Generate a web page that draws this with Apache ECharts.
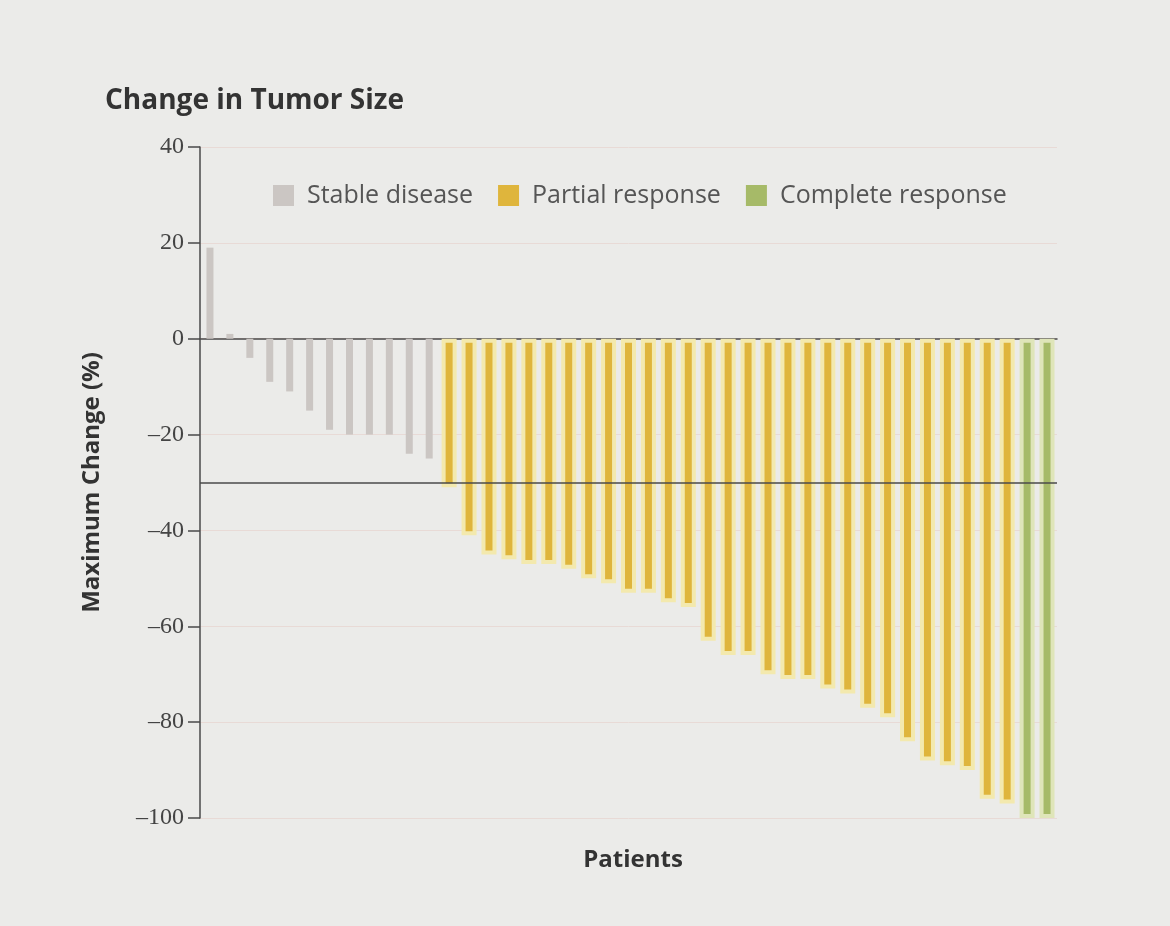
<!DOCTYPE html>
<html>
<head>
<meta charset="utf-8">
<script src="https://cdn.jsdelivr.net/npm/echarts@6/dist/echarts.min.js"></script>
<style>
  html, body { margin: 0; padding: 0; background: #ebebe9; }
  #main { width: 1170px; height: 926px; }
</style>
</head>
<body>
<div id="main"></div>
<script>
var chartDom = document.getElementById('main');
var myChart = echarts.init(chartDom);
var option;

// values, sorted as in the waterfall
var stableValues = [19, 1, -4, -9, -11, -15, -19, -20, -20, -20, -24, -25];
var partialValues = [-31, -41, -45, -46, -47, -47, -48, -50, -51, -53, -53, -55, -56,
    -63, -66, -66, -70, -71, -71, -73, -74, -77, -79, -84, -88, -89, -90, -96, -97];
var completeValues = [-100, -100];
var seriesNames = ['Stable disease', 'Partial response', 'Complete response'];
var yTicks = [40, 20, 0, -20, -40, -60, -80, -100];
var responseCutoff = -30;

var total = stableValues.length + partialValues.length + completeValues.length;
var patients = [];
for (var i = 0; i < total; i++) patients.push('P' + (i + 1));

function padded(values, offset) {
    var out = [];
    for (var i = 0; i < total; i++) {
        var j = i - offset;
        out.push(j >= 0 && j < values.length ? values[j] : '-');
    }
    return out;
}

var fontFam = '"Open Sans", "DejaVu Sans", sans-serif';
var bg = '#ebebe9';

option = {
    backgroundColor: bg,
    animation: false,
    title: [{
        text: 'Change in Tumor Size',
        left: 100,
        top: 82,
        textStyle: {
            fontFamily: fontFam,
            fontSize: 28,
            fontWeight: 'bold',
            color: '#333'
        }
    }, {
        text: 'Patients',
        left: 628,
        top: 843,
        textAlign: 'center',
        textStyle: {
            fontFamily: fontFam,
            fontSize: 24,
            fontWeight: 'bold',
            color: '#333'
        }
    }],
    legend: {
        data: seriesNames,
        left: 268,
        top: 178,
        icon: 'rect',
        itemWidth: 21,
        itemHeight: 21,
        itemGap: 25,
        itemStyle: { borderWidth: 0 },
        textStyle: {
            fontFamily: fontFam,
            fontSize: 25,
            color: '#555',
            padding: [0, 0, 0, 8]
        }
    },
    grid: {
        left: 200,
        right: 113,
        top: 147,
        bottom: 108
    },
    xAxis: [{
        type: 'category',
        data: patients,
        axisLine: {
            onZero: true,
            lineStyle: { color: '#4a4a4a', width: 1.5 }
        },
        axisTick: { show: false },
        axisLabel: { show: false },
        splitLine: { show: false }
    }, {
        // second, hidden axis so the narrow grey bars get their own centred layout
        type: 'category',
        data: patients,
        show: false
    }],
    yAxis: {
        type: 'value',
        min: yTicks[yTicks.length - 1],
        max: yTicks[0],
        interval: 20,
        name: 'Maximum Change (%)',
        nameLocation: 'middle',
        nameGap: 96,
        nameTextStyle: {
            fontFamily: fontFam,
            fontSize: 24,
            fontWeight: 'bold',
            color: '#333'
        },
        axisLine: {
            show: true,
            lineStyle: { color: '#4a4a4a', width: 1.5 }
        },
        axisTick: {
            show: true,
            length: 12,
            lineStyle: { color: '#4a4a4a', width: 1.5 }
        },
        axisLabel: {
            fontFamily: '"Liberation Serif", "DejaVu Serif", serif',
            fontSize: 24,
            color: '#444',
            margin: 16,
            formatter: function (v) { return String(v).replace('-', '\u2013'); }
        },
        splitLine: {
            show: true,
            lineStyle: { color: '#e8dad6', width: 1 }
        }
    },
    series: [{
        name: seriesNames[0],
        type: 'bar',
        xAxisIndex: 1,
        data: padded(stableValues, 0),
        barWidth: 7,
        itemStyle: { color: '#cbc6c3' },
        markLine: {
            silent: true,
            symbol: 'none',
            label: { show: false },
            lineStyle: { color: '#4a4a4a', width: 1.5, type: 'solid' },
            data: [{ yAxis: responseCutoff }]
        }
    }, {
        name: seriesNames[1],
        type: 'bar',
        data: padded(partialValues, stableValues.length),
        barWidth: 15,
        barGap: '-100%',
        itemStyle: {
            color: '#dfb53c',
            borderColor: '#f3e9ae',
            borderWidth: 4
        }
    }, {
        name: seriesNames[2],
        type: 'bar',
        data: padded(completeValues, stableValues.length + partialValues.length),
        barWidth: 15,
        barGap: '-100%',
        itemStyle: {
            color: '#a6ba68',
            borderColor: '#dfe5b9',
            borderWidth: 4
        }
    }]
};

option && myChart.setOption(option);
</script>
</body>
</html>
